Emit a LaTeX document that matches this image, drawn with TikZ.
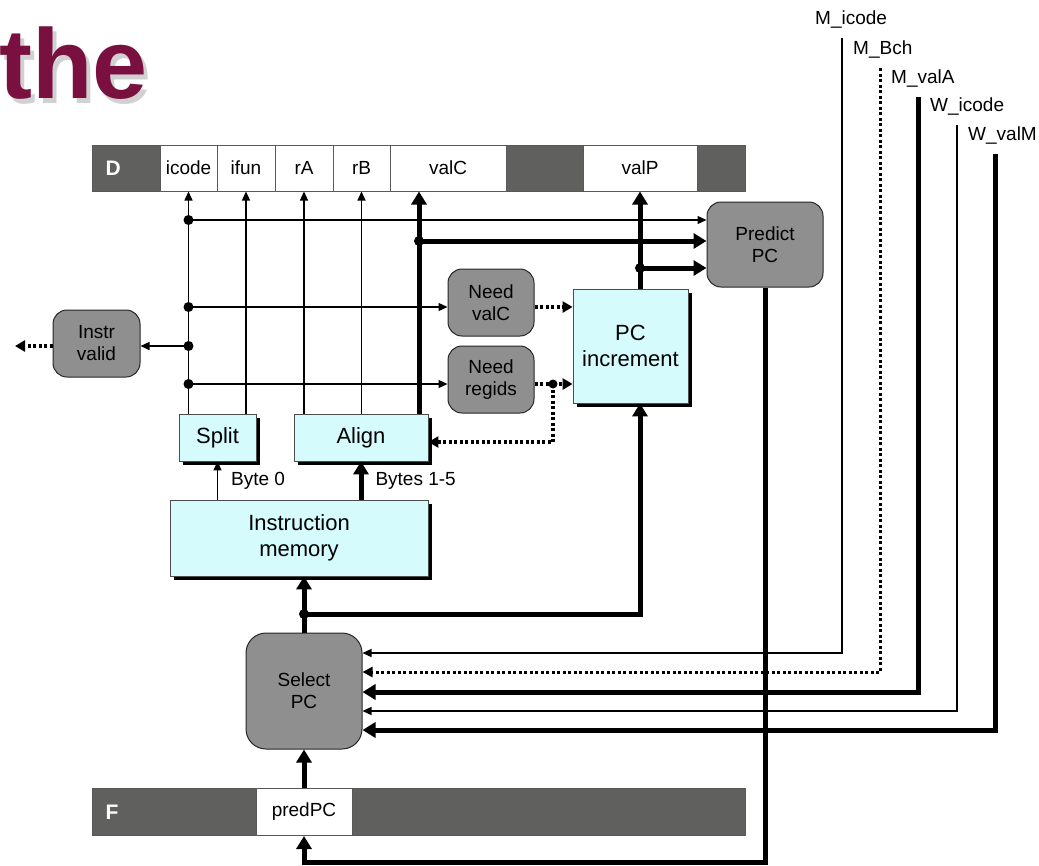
\documentclass[tikz,border=0pt]{standalone}
\usepackage{fontspec}
\setmainfont{Liberation Sans}
\usetikzlibrary{arrows.meta,shadows}

\definecolor{regdark}{RGB}{96,97,95}
\definecolor{ctlgray}{RGB}{143,143,143}
\definecolor{hwcyan}{RGB}{213,251,253}
\definecolor{titlered}{RGB}{122,16,64}

\tikzset{
  smallfont/.style={font=\fontsize{19}{22}\selectfont},
  largefont/.style={font=\fontsize{22}{26}\selectfont},
  title/.style={anchor=base west, inner sep=0pt, text=titlered, font=\fontsize{99}{102}\selectfont\bfseries},
  regcell/.style={draw=black!65, line width=1pt, fill=white, minimum height=46pt, inner sep=0pt, smallfont},
  regdark/.style={regcell, fill=regdark},
  regname/.style={anchor=west, inner xsep=14pt, inner ysep=0pt, text=white, font=\fontsize{21}{24}\selectfont\bfseries},
  ctlbox/.style={draw=black!85, line width=1pt, fill=ctlgray, rounded corners=14pt, inner sep=0pt, align=center, smallfont},
  hwbox/.style={draw=black!70, line width=0.8pt, fill=hwcyan, inner sep=0pt, align=center, largefont,
    drop shadow={shadow xshift=4pt, shadow yshift=-4pt, fill=black, opacity=1}},
  lbl/.style={inner sep=0pt, smallfont},
  thinarr/.style={line width=1.3pt, -{Triangle[length=9pt,width=8pt]}},
  thickarr/.style={line width=5pt, -{Triangle[length=13pt,width=15pt]}},
  dotarr/.style={line width=4pt, dash pattern=on 3pt off 2.5pt, -{Triangle[length=10pt,width=11pt]}},
  dotthin/.style={line width=3pt, dash pattern=on 3pt off 2.5pt, -{Triangle[length=10pt,width=10pt]}},
  dotline/.style={line width=4pt, dash pattern=on 3pt off 2.5pt},
}

\begin{document}
\begin{tikzpicture}[x=1pt,y=-1pt]
\useasboundingbox (0,0) rectangle (1039,865);
% title
\node[title, text=black, opacity=.18] (shadow) at (3,103) {the};
\node[title] (the) at (-1,98) {the};

% D register
\node[regdark, minimum width=68pt] (D) at (126,168) {};
\node[regname] (Dname) at (D.west) {D};
\foreach \n/\x/\w in {icode/188.5/57, ifun/246/58, rA/304/58, rB/361.5/57, valC/448/116, valP/640/114}
  \node[regcell, minimum width=\w pt] (\n) at (\x,168) {\n};
\node[regdark, minimum width=77pt] (Dgap) at (544.5,168) {};
\node[regdark, minimum width=48pt] (Dend) at (721,168) {};

% F register
\node[regdark, minimum width=164pt, minimum height=47pt] (F) at (174,812) {};
\node[regname] (Fname) at (F.west) {F};
\node[regcell, minimum width=96pt, minimum height=47pt] (predPC) at (304,812) {predPC};
\node[regdark, minimum width=393pt, minimum height=47pt] (Fend) at (548.5,812) {};

% logic blocks
\node[ctlbox, minimum width=116pt, minimum height=85pt] (predictpc) at (765,244.5) {Predict\\PC};
\node[ctlbox, minimum width=86pt, minimum height=67pt] (needvalC) at (491,302.5) {Need\\valC};
\node[ctlbox, minimum width=86pt, minimum height=67pt] (needregids) at (491,379.5) {Need\\regids};
\node[ctlbox, minimum width=87pt, minimum height=67pt] (instrvalid) at (96.5,343.5) {Instr\\valid};
\node[ctlbox, minimum width=116pt, minimum height=116pt, rounded corners=20pt] (selectpc) at (304,691) {Select\\PC};
\node[hwbox, minimum width=115pt, minimum height=114pt] (pcinc) at (630.5,346) {PC\\increment};
\node[hwbox, minimum width=77pt, minimum height=47pt] (split) at (217.5,437.5) {Split};
\node[hwbox, minimum width=134pt, minimum height=47pt] (align) at (361,437.5) {Align};
\node[hwbox, minimum width=258pt, minimum height=76pt] (imem) at (299,538) {Instruction\\memory};

% forks
\coordinate (fa) at (188.5,220);
\coordinate (fb) at (188.5,307);
\coordinate (fc) at (188.5,346);
\coordinate (fd) at (188.5,384);
\coordinate (cfork) at (419,241);
\coordinate (pfork) at (640,268);
\coordinate (rfork) at (553,384);
\coordinate (sfork) at (304,614);
\coordinate (ivout) at (15,346);
\coordinate (fbot) at (304,862);

% split / align to D
\draw[thinarr] (icode |- split.north) -- (icode);
\draw[thinarr] (ifun |- split.north) -- (ifun);
\draw[thinarr] (rA |- align.north) -- (rA);
\draw[thinarr] (rB |- align.north) -- (rB);
\draw[thinarr] (fa) -- (fa -| predictpc.west);
\draw[thinarr] (fb) -- (fb -| needvalC.west);
\draw[thinarr] (fc) -- (fc -| instrvalid.east);
\draw[thinarr] (fd) -- (fd -| needregids.west);
\draw[dotarr] (instrvalid.west |- fc) -- (ivout);
\draw[thickarr] (cfork |- align.north) -- (cfork |- valC.south);
\draw[thickarr] (cfork) -- (cfork -| predictpc.west);

% PC increment
\draw[dotarr] (needvalC.east |- fb) -- (fb -| pcinc.west);
\draw[dotline] (needregids.east |- fd) -- (rfork);
\draw[dotarr] (rfork) -- (rfork -| pcinc.west);
\draw[dotarr] (rfork) |- ([yshift=-4.5pt]align.east);
\draw[thickarr] (pcinc.north -| valP) -- (valP.south);
\draw[thickarr] (pfork) -- (pfork -| predictpc.west);

% instruction memory
\draw[thinarr] (imem.north -| split) -- (split.south) node[lbl, midway, right=13pt] (byte0) {Byte 0};
\draw[thickarr] (imem.north -| align) -- (align.south) node[lbl, midway, right=12pt] (bytes) {Bytes 1-5};
\draw[thickarr] (selectpc.north) -- (imem.south -| selectpc.north);
\draw[thickarr] (sfork) -| (pcinc.south -| valP);

% select PC
\draw[thickarr] (predictpc.south) |- (fbot) -- (predPC.south);
\draw[thickarr] (predPC.north) -- (selectpc.south);
\foreach \n/\t/\x/\top/\d/\s in {micode/M\_icode/842/38/38/thinarr, mbch/M\_Bch/880/68/19/dotthin,
    mvala/M\_valA/918/97/-1/thickarr, wicode/W\_icode/957/125/-20/thinarr, wvalm/W\_valM/995/154/-39/thickarr}
{
  \coordinate (\n) at (\x,\top);
  \node[lbl, anchor=base west] (\n lbl) at (\x-27,\top-14) {\t};
  \draw[\s] (\n) |- ([yshift=\d pt]selectpc.east);
}

\foreach \c in {fa,fb,fc,fd,cfork,pfork,sfork}
  \fill (\c) circle (5pt);
\fill (rfork) circle (4.5pt);
\end{tikzpicture}
\end{document}
